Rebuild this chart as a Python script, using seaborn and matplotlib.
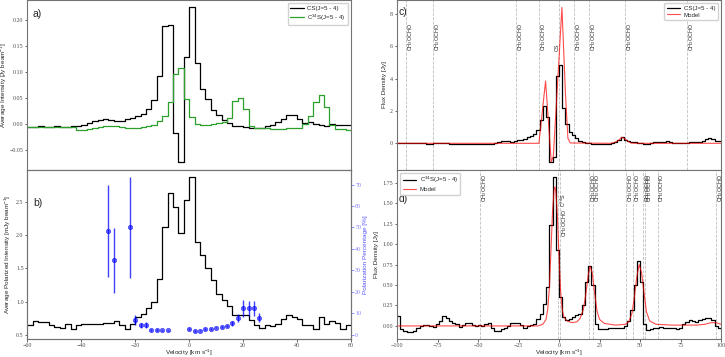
import numpy as np
import matplotlib
matplotlib.use("Agg")
import matplotlib.pyplot as plt
import seaborn as sns

# --- dados: painéis a) e b), canais de 2 km/s entre -60 e 60 ---
vel_edges_ab = np.arange(-60, 61, 2)

cs_avg = [-0.006, -0.006, -0.005, -0.006, -0.006, -0.005, -0.006, -0.006, -0.005, -0.005,
          -0.003, 0.002, 0.006, 0.008, 0.010, 0.008, 0.005, 0.006, 0.009, 0.012,
          0.015, 0.019, 0.028, 0.047, 0.093, 0.188, 0.190, -0.018, -0.074, 0.130,
          0.226, 0.117, 0.068, 0.048, 0.027, 0.017, 0.008, 0.001, -0.004, -0.005,
          -0.006, -0.007, -0.007, -0.007, -0.005, -0.003, 0.003, 0.009, 0.017, 0.017,
          0.010, 0.002, 0.004, 0.000, -0.003, -0.004, -0.001, -0.002, -0.002, -0.003]

c34s_avg = [-0.006, -0.006, -0.006, -0.006, -0.006, -0.006, -0.006, -0.006, -0.006, -0.011,
            -0.011, -0.010, -0.008, -0.006, -0.005, -0.004, -0.004, -0.006, -0.008, -0.008,
            -0.007, -0.006, -0.004, -0.002, 0.005, 0.016, 0.043, 0.096, 0.108, 0.048,
            0.014, 0.000, -0.002, -0.002, 0.000, 0.001, 0.004, 0.012, 0.045, 0.050,
            0.028, -0.005, -0.008, -0.008, -0.008, -0.009, -0.009, -0.009, -0.008, -0.008,
            -0.008, 0.000, 0.015, 0.043, 0.056, 0.032, -0.002, -0.009, -0.010, -0.011]

pol_int = [0.65, 0.71, 0.69, 0.69, 0.64, 0.62, 0.60, 0.66, 0.58, 0.65,
           0.66, 0.66, 0.66, 0.66, 0.67, 0.68, 0.71, 0.65, 0.58, 0.66,
           0.77, 0.81, 0.90, 1.00, 1.34, 2.13, 2.63, 2.43, 2.04, 2.53,
           2.88, 1.90, 1.70, 1.51, 1.32, 1.11, 1.02, 0.94, 0.80, 0.80,
           0.80, 0.72, 0.64, 0.60, 0.65, 0.63, 0.66, 0.74, 0.79, 0.76,
           0.73, 0.65, 0.65, 0.58, 0.76, 0.66, 0.70, 0.68, 0.58, 0.64]

pol_vel = [-30, -28, -22, -20, -18, -16, -14, -12, -10, -8,
           0, 2, 4, 6, 8, 10, 12, 14, 16, 18, 20, 22, 24, 26]
pol_pct = [48.5, 34.6, 50.0, 6.9, 4.3, 4.4, 2.3, 2.2, 2.0, 2.0,
           2.8, 1.7, 1.9, 2.5, 2.7, 3.3, 3.6, 4.2, 5.4, 7.6, 12.3, 12.3, 12.3, 8.0]
pol_err = [21.5, 15.3, 23.6, 2.2, 1.2, 1.5, 0.4, 0.4, 0.4, 0.4,
           0.4, 0.4, 0.4, 0.4, 0.4, 0.4, 0.4, 0.5, 1.2, 1.9, 3.9, 3.5, 3.4, 2.2]

# --- dados: painéis c) e d), canais de 2 km/s entre -100 e 100 ---
vel_edges_cd = np.arange(-100, 101, 2)

cs_flux = [0.03, 0.02, 0.00, -0.01, 0.00, 0.02, 0.03, 0.02, 0.00, -0.02,
           -0.02, 0.00, 0.02, 0.01, 0.00, -0.01, -0.02, -0.03, -0.05, -0.05,
           -0.04, -0.05, -0.04, -0.03, -0.03, -0.04, -0.05, -0.05, -0.04, -0.02,
           0.00, 0.05, 0.12, 0.16, 0.14, 0.11, 0.13, 0.18, 0.23, 0.28,
           0.36, 0.46, 0.58, 0.85, 1.45, 2.30, 1.60, -1.18, -0.83, 4.15,
           4.85, 2.20, 1.20, 0.72, 0.50, 0.31, 0.17, 0.08, 0.03, -0.01,
           -0.03, -0.04, -0.05, -0.05, -0.04, -0.02, 0.00, 0.05, 0.18, 0.36,
           0.22, 0.12, 0.08, 0.05, 0.02, -0.01, -0.03, -0.02, 0.03, 0.05,
           0.05, 0.08, 0.11, 0.12, 0.08, 0.03, 0.00, -0.01, 0.00, 0.03,
           0.05, 0.06, 0.08, 0.10, 0.15, 0.25, 0.33, 0.25, 0.17, 0.17]

c34s_flux = [0.12, -0.04, -0.06, -0.07, -0.07, -0.06, -0.03, 0.00, 0.01, 0.01,
             0.00, -0.01, 0.02, 0.06, 0.12, 0.10, 0.06, 0.04, 0.02, -0.01,
             0.01, 0.04, 0.04, 0.01, 0.00, 0.01, 0.00, 0.02, 0.03, -0.03,
             -0.06, -0.06, -0.04, -0.02, 0.00, 0.03, 0.04, 0.03, 0.01, -0.02,
             0.00, 0.01, 0.02, 0.08, 0.14, 0.27, 0.48, 1.24, 1.82, 0.93,
             0.35, 0.11, 0.07, 0.09, 0.11, 0.13, 0.15, 0.25, 0.54, 0.73,
             0.50, 0.02, -0.04, -0.04, -0.04, -0.03, -0.02, -0.03, -0.03, -0.02,
             0.00, 0.06, 0.20, 0.50, 0.80, 0.54, 0.02, -0.05, -0.04, -0.03,
             -0.02, -0.01, -0.02, -0.02, -0.03, -0.03, -0.04, -0.02, 0.02, 0.05,
             0.07, 0.06, 0.05, 0.07, 0.09, 0.10, 0.10, 0.07, 0.00, -0.03]

model_cs_v = [-100, -12.4, -8.3, -4.8, -3.5, 1.8, 4.0, 5.5, 7.0, 32, 35, 37, 38.7, 40.5, 42.5, 44.5, 47, 100]
model_cs_y = [0.0, 0.0, 3.85, -1.15, -0.8, 8.4, 3.0, 0.3, 0.02, 0.0, 0.08, 0.2, 0.37, 0.3, 0.12, 0.02, 0.0, 0.0]

model_c34s_v = [-100, -13, -10, -8, -7, -6, -5, -4, -3, -2.5, -2, -1, 0, 1, 2, 3, 5, 8, 11, 13,
                15, 16.5, 18, 19.2, 20.5, 22, 23.5, 25, 28, 35, 41, 43, 45, 46.5, 48, 49.5, 51,
                52.5, 54, 56, 60, 70, 85, 90, 94, 97, 100]
model_c34s_y = [0.0, 0.0, 0.02, 0.08, 0.2, 0.45, 0.9, 1.4, 1.68, 1.70, 1.65, 1.35, 0.85, 0.42, 0.2,
                0.11, 0.06, 0.04, 0.05, 0.09, 0.2, 0.38, 0.62, 0.73, 0.65, 0.4, 0.18, 0.08, 0.03,
                0.01, 0.02, 0.05, 0.15, 0.35, 0.6, 0.75, 0.65, 0.4, 0.17, 0.06, 0.02, 0.01, 0.01,
                0.02, 0.04, 0.04, 0.02]

lines_c = [-94.4, -78.0, -26.7, -12.3, 0.0, 9.3, 18.5, 40.7, 78.8]
tags_c = ['CH$_3$OCHO'] * 4 + ['CS'] + ['CH$_3$OCHO'] * 4
tag_x_c = [-94.4, -78.0, -26.7, -12.3, -2.4, 9.3, 18.5, 40.7, 78.8]

lines_d = [-48.8, -0.4, 0.6, 18.7, 21.2, 41.3, 45.9, 52.1, 53.1, 60.8, 96.8]
tags_d = ['CH$_3$OCHO', 'C$^{34}$S', 'CH$_3$OCHO', 'CH$_3$OCHO', 'CH$_3$OCHO', 'CH$_3$OCHO',
          'CH$_3$OCHO', 'CH$_3$OCHO', 'CH$_3$OCHO', 'CH$_3$OCHO', 'CH$_3$OCHO']
tag_y_d = [1.51, 1.46, 1.09, 1.51, 1.51, 1.51, 1.51, 1.51, 1.51, 1.51, 1.51]

SANS = 'Liberation Sans'


def degraus(edges, vals):
    """Repete o último valor para o desenho em degraus ir até a borda."""
    return edges, np.append(vals, vals[-1])


def main():
    sns.set_theme(style='ticks')
    plt.rcParams['font.family'] = 'serif'
    plt.rcParams['font.serif'] = ['Liberation Serif', 'DejaVu Serif']
    plt.rcParams['mathtext.fontset'] = 'custom'
    plt.rcParams['mathtext.rm'] = SANS
    plt.rcParams['mathtext.it'] = SANS + ':italic'
    plt.rcParams['axes.edgecolor'] = '0.45'
    plt.rcParams['axes.linewidth'] = 0.8
    plt.rcParams['xtick.color'] = '0.3'
    plt.rcParams['ytick.color'] = '0.3'
    plt.rcParams['xtick.major.size'] = 1.8
    plt.rcParams['ytick.major.size'] = 1.8
    plt.rcParams['xtick.major.width'] = 0.6
    plt.rcParams['ytick.major.width'] = 0.6

    fig = plt.figure(figsize=(7.25, 3.57), dpi=100)
    ax_a = fig.add_axes([0.0379, 0.5252, 0.4462, 0.4748])
    ax_b = fig.add_axes([0.0379, 0.0504, 0.4462, 0.4748], sharex=ax_a)
    ax_c = fig.add_axes([0.5476, 0.5252, 0.4469, 0.4748])
    ax_d = fig.add_axes([0.5476, 0.0504, 0.4469, 0.4748], sharex=ax_c)

    lab = dict(fontsize=4.6, family=SANS)
    leg = dict(prop={'family': SANS, 'size': 4.4}, handlelength=2.2, borderpad=0.4,
               labelspacing=0.25, handletextpad=0.6, framealpha=0.9, edgecolor='0.8',
               fancybox=True)

    # a) intensidade média
    x, y = degraus(vel_edges_ab, cs_avg)
    sns.lineplot(x=x, y=y, ax=ax_a, color='black', lw=0.9, drawstyle='steps-post',
                 label='CS(J=5 - 4)')
    x, y = degraus(vel_edges_ab, c34s_avg)
    sns.lineplot(x=x, y=y, ax=ax_a, color='#2ca02c', lw=0.9, drawstyle='steps-post',
                 label='C$^{34}$S(J=5 - 4)')
    ax_a.set_ylim(-0.088, 0.239)
    ax_a.set_yticks([-0.05, 0.0, 0.05, 0.10, 0.15, 0.20])
    ax_a.set_ylabel('Average Intensity [Jy beam$^{-1}$]', **lab)
    ax_a.yaxis.set_label_coords(-0.056, 0.5)
    ax_a.legend(loc='upper right', **leg)
    ax_a.tick_params(axis='x', bottom=False, labelbottom=False)
    ax_a.text(0.017, 0.92, 'a)', transform=ax_a.transAxes, fontsize=7.5, family=SANS,
              va='center')

    # b) intensidade polarizada + porcentagem de polarização
    x, y = degraus(vel_edges_ab, pol_int)
    sns.lineplot(x=x, y=y, ax=ax_b, color='black', lw=0.9, drawstyle='steps-post')
    ax_b.set_ylim(0.435, 2.99)
    ax_b.set_yticks([0.5, 1.0, 1.5, 2.0, 2.5])
    ax_b.set_xlim(-60, 60)
    ax_b.set_xticks([-60, -40, -20, 0, 20, 40, 60])
    ax_b.set_xlabel('Velocity [km s$^{-1}$]', labelpad=0.2, **lab)
    ax_b.set_ylabel('Average Polarized Intensity [mJy beam$^{-1}$]', **lab)
    ax_b.yaxis.set_label_coords(-0.046, 0.5)
    ax_b.text(0.017, 0.805, 'b)', transform=ax_b.transAxes, fontsize=7.5, family=SANS,
              va='center')

    ax_p = ax_b.twinx()
    ax_p.errorbar(pol_vel, pol_pct, yerr=pol_err, fmt='none', ecolor='blue',
                  elinewidth=1.0, alpha=0.75)
    sns.scatterplot(x=pol_vel, y=pol_pct, ax=ax_p, color='blue', s=10, alpha=0.6,
                    edgecolor='blue', linewidth=0.5)
    ax_p.set_ylim(-2.0, 77.0)
    ax_p.set_yticks(range(0, 71, 10))
    ax_p.tick_params(axis='y', colors='#8080ff', labelsize=4.3, length=1.8, pad=1.2)
    ax_p.set_ylabel('Polarization Percentage [%]', color='#5555ff', **lab)
    ax_p.yaxis.set_label_coords(1.036, 0.5)

    # c) CS com modelo
    x, y = degraus(vel_edges_cd, cs_flux)
    sns.lineplot(x=x, y=y, ax=ax_c, color='black', lw=0.9, drawstyle='steps-post',
                 label='CS(J=5 - 4)')
    sns.lineplot(x=model_cs_v, y=model_cs_y, ax=ax_c, color='red', lw=0.8, alpha=0.7,
                 label='Model')
    for xl in lines_c:
        ax_c.axvline(xl, color='0.75', ls='--', lw=0.6, zorder=0)
    for xt, t in zip(tag_x_c, tags_c):
        ax_c.text(xt, 5.7, t, rotation=90, ha='left', va='bottom', fontsize=3.9, family=SANS)
    ax_c.set_ylim(-1.62, 8.86)
    ax_c.set_yticks([0, 2, 4, 6, 8])
    ax_c.set_ylabel('Flux Density [Jy]', **lab)
    ax_c.yaxis.set_label_coords(-0.032, 0.5)
    ax_c.legend(loc='upper right', **leg)
    ax_c.tick_params(axis='x', bottom=False, labelbottom=False)
    ax_c.text(0.006, 0.93, 'c)', transform=ax_c.transAxes, fontsize=7.5, family=SANS,
              va='center')

    # d) C34S com modelo
    x, y = degraus(vel_edges_cd, c34s_flux)
    sns.lineplot(x=x, y=y, ax=ax_d, color='black', lw=0.9, drawstyle='steps-post',
                 label='C$^{34}$S(J=5 - 4)')
    sns.lineplot(x=model_c34s_v, y=model_c34s_y, ax=ax_d, color='red', lw=0.8, alpha=0.7,
                 label='Model')
    for xl in lines_d:
        ax_d.axvline(xl, color='0.75', ls='--', lw=0.6, zorder=0)
    for xt, yt, t in zip(lines_d, tag_y_d, tags_d):
        ax_d.text(xt, yt, t, rotation=90, ha='left', va='bottom', fontsize=3.9, family=SANS)
    ax_d.set_ylim(-0.16, 1.913)
    ax_d.set_yticks([0.0, 0.25, 0.5, 0.75, 1.0, 1.25, 1.5, 1.75])
    ax_d.set_xlim(-100, 100)
    ax_d.set_xticks([-100, -75, -50, -25, 0, 25, 50, 75, 100])
    ax_d.set_xlabel('Velocity [km s$^{-1}$]', labelpad=0.2, **lab)
    ax_d.set_ylabel('Flux Density [Jy]', **lab)
    ax_d.yaxis.set_label_coords(-0.057, 0.5)
    ax_d.legend(loc='upper left', **leg)
    ax_d.text(0.006, 0.825, 'd)', transform=ax_d.transAxes, fontsize=7.5, family=SANS,
              va='center')

    for ax in (ax_a, ax_b, ax_c, ax_d):
        ax.tick_params(labelsize=4.3, pad=1.0)

    fig.savefig('out.png', dpi=100)
    plt.close(fig)


if __name__ == "__main__":
    main()
